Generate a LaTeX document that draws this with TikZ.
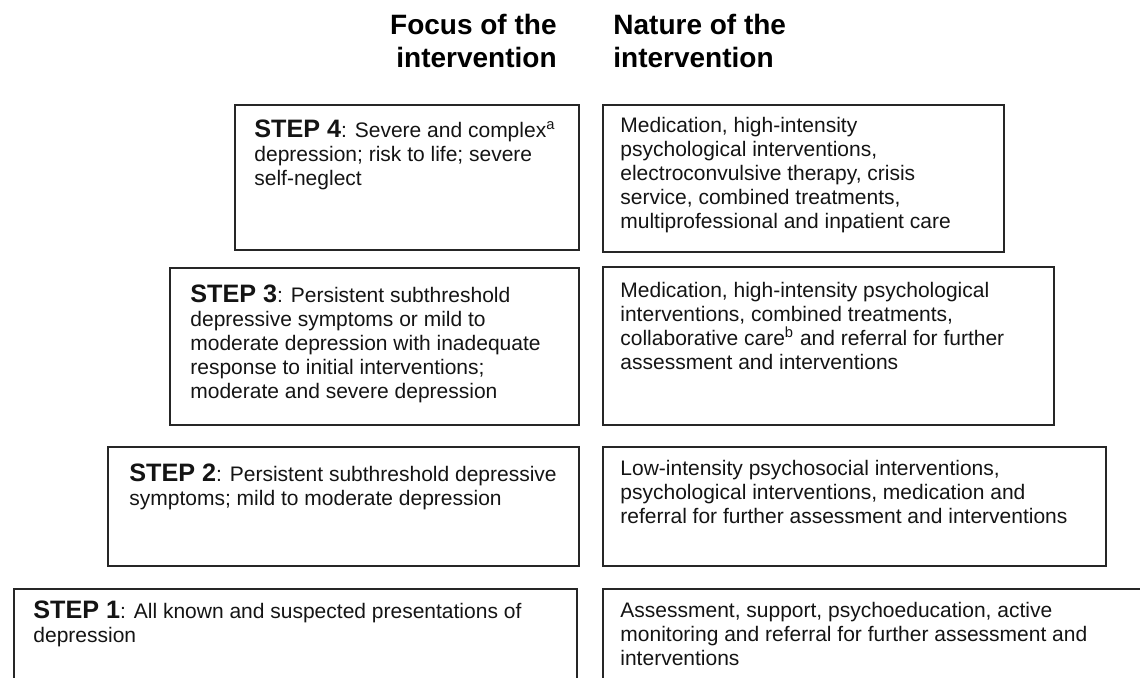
\documentclass[tikz,border=0pt]{standalone}
\usepackage{fontspec}
\setmainfont{Liberation Sans}
\newcommand\stepword[1]{{\fontsize{12.6}{12}\selectfont\bfseries STEP #1}}
\newcommand\topstrut{\rule{0pt}{11pt}}
\tikzset{
  px/.style={x=0.5pt,y=-0.5pt},
  boxst/.style={draw=black!85, line width=1.1pt, inner sep=0pt, anchor=north west, fill=none},
  txt/.style={anchor=north west, inner sep=0pt, align=left, text=black!92,
              font=\fontsize{10.5}{12}\selectfont},
  headst/.style={anchor=north west, inner sep=0pt, text=black,
              font=\fontsize{14}{16.5}\selectfont\bfseries},
}
\begin{document}
\begin{tikzpicture}[px]
\useasboundingbox (0,0) rectangle (1140,678);
\clip (0,0) rectangle (1140,678);
% headers
\node[headst, anchor=north east, align=right] (hl) at (557,12) {\topstrut Focus of the\\intervention};
\node[headst, align=left] (hr) at (613,12) {\topstrut Nature of the\\intervention};
% boxes
\node[boxst, minimum width=172pt, minimum height=72.5pt] (s4) at (234,104) {};
\node[boxst, minimum width=200.5pt, minimum height=73.5pt] (n4) at (602,104) {};
\node[boxst, minimum width=204.5pt, minimum height=78.5pt] (s3) at (169,267) {};
\node[boxst, minimum width=225.5pt, minimum height=79pt] (n3) at (602,266) {};
\node[boxst, minimum width=235.5pt, minimum height=59.5pt] (s2) at (107,446) {};
\node[boxst, minimum width=251.5pt, minimum height=59.5pt] (n2) at (602,446) {};
\node[boxst, minimum width=281.5pt, minimum height=60pt] (s1) at (13,588) {};
\node[boxst, minimum width=300pt, minimum height=60pt] (n1) at (602,588) {};
% texts
\node[txt] (t4) at (254,115) {\topstrut\stepword{4}: Severe and complex\textsuperscript{a}\\depression; risk to life; severe\\self-neglect};
\node[txt] (u4) at (620,110) {\topstrut Medication, high-intensity\\psychological interventions,\\electroconvulsive therapy, crisis\\service, combined treatments,\\multiprofessional and inpatient care};
\node[txt] (t3) at (190,280) {\topstrut\stepword{3}: Persistent subthreshold\\depressive symptoms or mild to\\moderate depression with inadequate\\response to initial interventions;\\moderate and severe depression};
\node[txt] (u3) at (620,275) {\topstrut Medication, high-intensity psychological\\interventions, combined treatments,\\collaborative care\textsuperscript{b} and referral for further\\assessment and interventions};
\node[txt] (t2) at (129,459) {\topstrut\stepword{2}: Persistent subthreshold depressive\\symptoms; mild to moderate depression};
\node[txt] (u2) at (620,453) {\topstrut Low-intensity psychosocial interventions,\\psychological interventions, medication and\\referral for further assessment and interventions};
\node[txt] (t1) at (33,596) {\topstrut\stepword{1}: All known and suspected presentations of\\depression};
\node[txt] (u1) at (620,595) {\topstrut Assessment, support, psychoeducation, active\\monitoring and referral for further assessment and\\interventions};
\end{tikzpicture}
\end{document}
